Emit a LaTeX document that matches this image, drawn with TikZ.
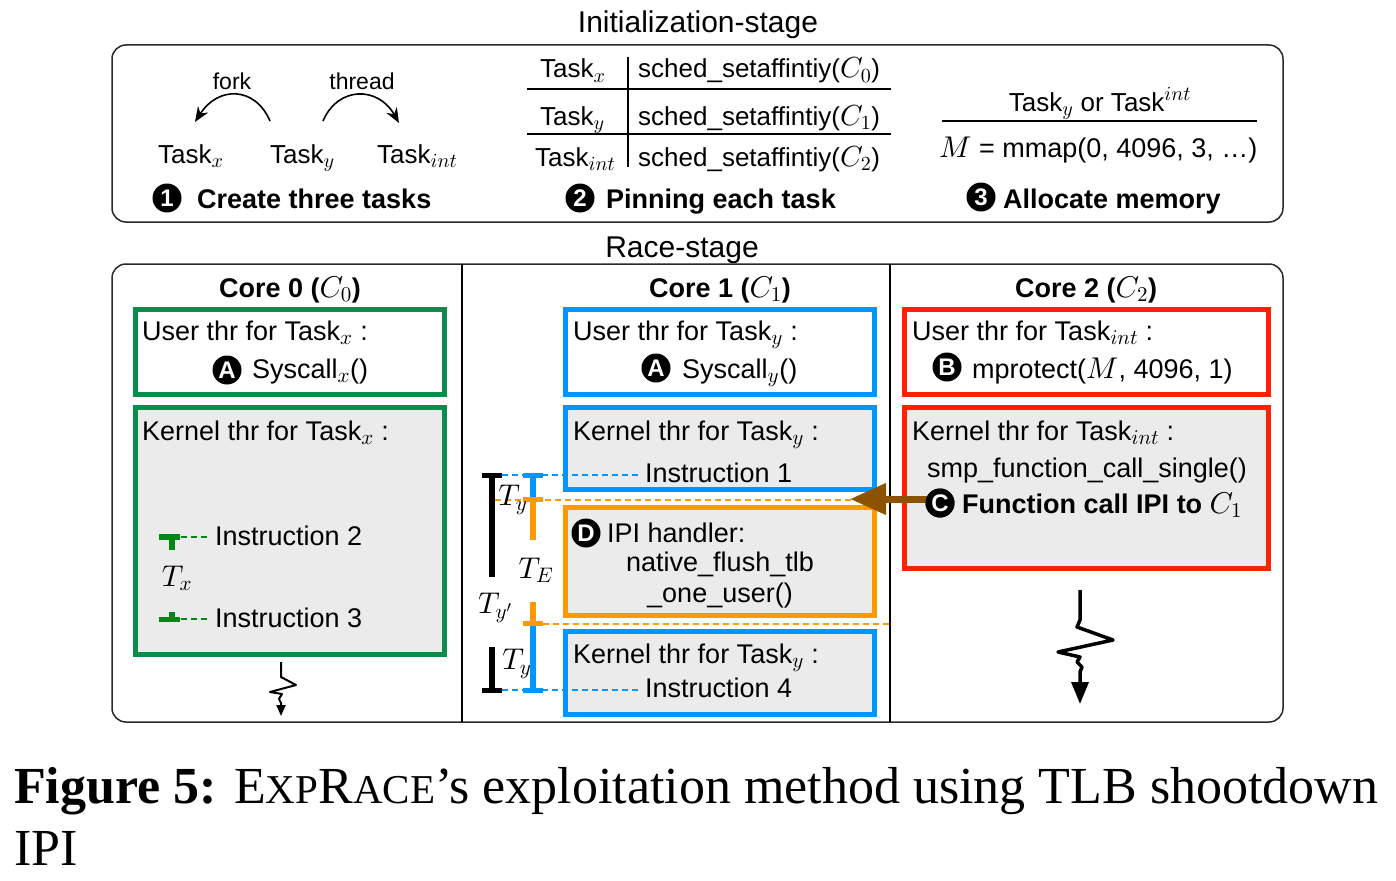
\RequirePackage{fix-cm}
\documentclass[tikz,border=0pt]{standalone}
\usepackage[no-math]{fontspec}
\setmainfont{Liberation Sans}
\newfontfamily\capfont{Liberation Serif}
\usetikzlibrary{arrows.meta}
\DeclareFontShape{OML}{cmm}{m}{it}{<->cmmi10}{}
\DeclareFontShape{OT1}{cmr}{m}{n}{<->cmr10}{}
\DeclareMathSizes{27}{30}{21}{16}
\DeclareMathSizes{26}{29}{20}{15}
\definecolor{cgreen}{RGB}{10,140,75}
\definecolor{tgreen}{RGB}{0,135,20}
\definecolor{cblue}{RGB}{0,150,255}
\definecolor{corange}{RGB}{255,153,0}
\definecolor{cred}{RGB}{255,34,0}
\definecolor{cbrown}{RGB}{140,82,0}
\definecolor{cfill}{RGB}{235,235,235}
\definecolor{cframe}{RGB}{40,40,40}
\newcommand\fs[1]{\fontsize{#1}{#1}\selectfont}
\begin{document}
\begin{tikzpicture}[x=1pt,y=-1pt,
  txt/.style={font=\fs{27}, inner sep=0pt, anchor=base west},
  ctxt/.style={font=\fs{27}, inner sep=0pt, anchor=base},
  badge/.style={circle, fill=black, text=white, font=\fs{24}\bfseries, inner sep=0pt, minimum size=29pt},
  framebox/.style={draw=cframe, line width=1.5pt, rounded corners=14pt},
  ubox/.style={line width=5pt, fill=white},
  kbox/.style={line width=5pt, fill=cfill},
  dashline/.style={line width=2pt, dash pattern=on 6pt off 4pt},
  vbar/.style={line width=6pt},
  capline/.style={line width=5pt},
  bolt/.style={line width=3.5pt, line join=round, -{Triangle[length=22pt,width=17pt]}},
  curvearrow/.style={line width=1.6pt, -{Stealth[length=15pt,width=12pt]}}]
\path[use as bounding box] (0,0) rectangle (1396,880);

% ---------------- Initialization stage ----------------
\node[ctxt, font=\fs{30}] (init) at (698,33) {Initialization-stage};
\draw[framebox] (112,45) rectangle (1283,222);

\node[ctxt, font=\fs{23}] (fork) at (232,90) {fork};
\node[ctxt, font=\fs{23}] (thread) at (362,90) {thread};
\node[txt, font=\fs{26}] (tx) at (158,163) {Task$_x$};
\node[txt, font=\fs{26}] (ty) at (270,163) {Task$_y$};
\node[txt, font=\fs{26}] (ti) at (377,163) {Task$_{int}$};
\coordinate (f1) at (270,121);
\coordinate (f2) at (195,122);
\coordinate (h1) at (323,121);
\coordinate (h2) at (399,123);
\draw[curvearrow] (f1) .. controls (255,86) and (218,86) .. (f2);
\draw[curvearrow] (h1) .. controls (338,86) and (378,86) .. (h2);
\node[badge] (b1) at (167,198) {1};
\node[txt, font=\fs{27}\bfseries] (s1) at (197,208) {Create three tasks};

% pinning table
\node[txt, font=\fs{26}] (p1) at (540,78) {Task$_x$};
\node[txt, font=\fs{26}] (p2) at (540,125) {Task$_y$};
\node[txt, font=\fs{26}] (p3) at (535,166) {Task$_{int}$};
\node[txt, font=\fs{26}] (q1) at (638,78) {sched\_setaffintiy($C_0$)};
\node[txt, font=\fs{26}] (q2) at (638,125) {sched\_setaffintiy($C_1$)};
\node[txt, font=\fs{26}] (q3) at (638,166) {sched\_setaffintiy($C_2$)};
\draw[line width=2pt] (527,89) -- (891,89);
\draw[line width=2pt] (527,134) -- (891,134);
\draw[line width=1.5pt] (628,57) -- (628,167);
\node[badge] (b2) at (580,198) {2};
\node[txt, font=\fs{27}\bfseries] (s2) at (606,208) {Pinning each task};

% allocate
\node[ctxt, font=\fs{26}] (alt) at (1100,111) {Task$_y$ or Task$^{int}$};
\draw[line width=1.5pt] (942,121) -- (1257,121);
\node[txt, font=\fs{27}] (mm) at (939,157) {$M$ = mmap(0, 4096, 3, …)};
\node[badge] (b3) at (981,197) {3};
\node[txt, font=\fs{27}\bfseries] (s3) at (1003,208) {Allocate memory};

% ---------------- Race stage ----------------
\node[ctxt, font=\fs{30}] (race) at (682,257) {Race-stage};
\draw[framebox] (112,264) rectangle (1283,722);
\draw[line width=1.5pt] (462,264) -- (462,722);
\draw[line width=1.5pt] (890,264) -- (890,722);

\node[ctxt, font=\fs{27}\bfseries] (c0) at (290,297) {Core 0 ($C_0$)};
\node[ctxt, font=\fs{27}\bfseries] (c1) at (720,297) {Core 1 ($C_1$)};
\node[ctxt, font=\fs{27}\bfseries] (c2) at (1086,297) {Core 2 ($C_2$)};

% boxes
\draw[cgreen, ubox] (135.5,309.5) rectangle (444.5,394.5);
\draw[cgreen, kbox] (135.5,407.5) rectangle (444.5,654.5);
\draw[cblue, ubox] (565.5,309.5) rectangle (874.5,394.5);
\draw[cblue, kbox] (565.5,407.5) rectangle (874.5,489.5);
\draw[corange, kbox] (565.5,507.5) rectangle (874.5,615.5);
\draw[cblue, kbox] (565.5,631.5) rectangle (874.5,714.5);
\draw[cred, ubox] (904.5,309.5) rectangle (1268.5,394.5);
\draw[cred, kbox] (904.5,407.5) rectangle (1268.5,568.5);

% core 0 content
\node[txt] (u0) at (142,340) {User thr for Task$_x$ :};
\node[badge] (a0) at (227,370) {A};
\node[txt] (sc0) at (252,378) {Syscall$_x$()};
\node[txt] (k0) at (142,440) {Kernel thr for Task$_x$ :};
\draw[tgreen, vbar] (159,536.5) -- (180,536.5);
\draw[tgreen, vbar] (172,536) -- (172,550);
\draw[tgreen, dashline] (181,537) -- (209,537);
\node[txt] (i2) at (215,545) {Instruction 2};
\node[font=\fs{27}, inner sep=0pt] (tx0) at (177,578) {$T_x$};
\draw[tgreen, capline] (159,619.5) -- (180,619.5);
\draw[tgreen, vbar] (172,612) -- (172,619);
\draw[tgreen, dashline] (181,619) -- (209,619);
\node[txt] (i3) at (215,627) {Instruction 3};
\draw[line width=2pt, line join=round, -{Triangle[length=11pt,width=9pt]}]
  (281,662) -- (281,677) -- (296,685) -- (270,692) -- (282,694) -- (279,699) -- (281,703) -- (281,716);

% core 1 content
\node[txt] (u1) at (573,340) {User thr for Task$_y$ :};
\node[badge] (a1) at (656,368) {A};
\node[txt] (sc1) at (682,378) {Syscall$_y$()};
\node[txt] (k1) at (573,440) {Kernel thr for Task$_y$ :};
\node[txt] (i1) at (645,482) {Instruction 1};
\node[badge] (d1) at (586,533) {D};
\node[txt] (ipi) at (607,542) {IPI handler:};
\node[ctxt] (nf1) at (720,571) {native\_flush\_tlb};
\node[ctxt] (nf2) at (720,602) {\_one\_user()};
\node[txt] (k2) at (573,663) {Kernel thr for Task$_y$ :};
\node[txt] (i4) at (645,697) {Instruction 4};

% timing markers
\draw[cblue, dashline] (502,475) -- (638,475);
\draw[cblue, dashline] (502,690) -- (638,690);
\draw[corange, dashline] (495,500) -- (856,500);
\draw[corange, dashline, line width=1.5pt] (543,624) -- (889,624);
\draw[vbar] (492,475) -- (492,577);
\draw[capline] (482,475) -- (502,475);
\draw[vbar] (492,647) -- (492,690);
\draw[capline] (482,690) -- (502,690);
\draw[cblue, vbar] (533,475) -- (533,499);
\draw[cblue, capline] (523,475) -- (543,475);
\draw[cblue, vbar] (533,623) -- (533,690);
\draw[cblue, capline] (523,690) -- (543,690);
\draw[corange, vbar] (533,499) -- (533,540);
\draw[corange, capline] (523,499) -- (543,499);
\draw[corange, vbar] (533,602) -- (533,623);
\draw[corange, capline] (523,623) -- (543,623);
\node[font=\fs{27}, inner sep=0pt] (ty1) at (513,500) {$T_y$};
\node[font=\fs{27}, inner sep=0pt] (te) at (536,570) {$T_E$};
\node[font=\fs{27}, inner sep=0pt] (typ) at (495,608) {$T_{y'}$};
\node[font=\fs{27}, inner sep=0pt] (ty2) at (517,664) {$T_y$};

% core 2 content
\node[txt] (u2) at (912,340) {User thr for Task$_{int}$ :};
\node[badge] (bb) at (947,367) {B};
\node[txt] (mp) at (972,378) {mprotect($M$, 4096, 1)};
\node[txt] (k3) at (912,440) {Kernel thr for Task$_{int}$ :};
\node[txt] (smp) at (927,477) {smp\_function\_call\_single()};
\coordinate (tip) at (850,499);
\node[badge] (bc) at (940,503) {C};
\draw[cbrown, line width=7pt, -{Triangle[length=36pt,width=30pt]}] (bc.west) ++(2,-4) -- (tip);
\node[badge] at (940,503) {C};
\node[txt, font=\fs{27}\bfseries] (fc) at (962,513) {Function call IPI to $C_1$};
\draw[bolt] (1080,590) -- (1080,620) -- (1077,627) -- (1113,640) -- (1058,652) -- (1080,657)
  -- (1077,662) -- (1082,667) -- (1080,672) -- (1080,704);

% ---------------- caption ----------------
\node[anchor=base west, inner sep=0pt, font=\capfont\fs{52}] (cap1) at (14,803)
  {\textbf{Figure 5:} E{\fs{41}XP}R{\fs{41}ACE}’s exploitation method using TLB shootdown};
\node[anchor=base west, inner sep=0pt, font=\capfont\fs{52}] (cap2) at (14,865) {IPI};
\end{tikzpicture}
\end{document}
